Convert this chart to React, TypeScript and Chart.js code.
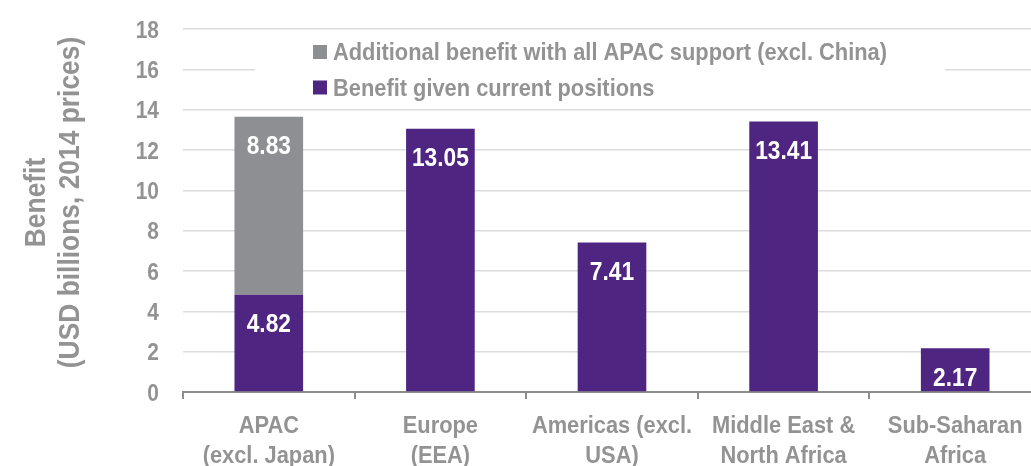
import React, { useEffect, useRef } from 'react';
import { Chart, registerables } from 'chart.js';

Chart.register(...registerables);

const categories: string[][] = [
  ['APAC', '(excl. Japan)'],
  ['Europe', '(EEA)'],
  ['Americas (excl.', 'USA)'],
  ['Middle East &', 'North Africa'],
  ['Sub-Saharan', 'Africa'],
];
const currentBenefit: number[] = [4.82, 13.05, 7.41, 13.41, 2.17];
const additionalBenefit: (number | null)[] = [8.83, null, null, null, null];
const seriesLabels: string[] = ['Benefit given current positions', 'Additional benefit with all APAC support (excl. China)'];
const yTicks: number[] = [0, 2, 4, 6, 8, 10, 12, 14, 16, 18];
const yTitle: string[] = ['Benefit', '(USD billions, 2014 prices)'];

const PURPLE = '#4F2582';
const GREY = '#8E8F93';
const TEXT = '#939393';
const FONT = "'Liberation Sans', Arial, sans-serif";

let SX = 0.82;

function narrowText(ctx: CanvasRenderingContext2D, text: string, x: number, y: number, size: number, color: string, align: CanvasTextAlign, rot = 0) {
  ctx.save();
  ctx.font = `bold ${size}px ${FONT}`;
  ctx.fillStyle = color;
  ctx.textAlign = align;
  ctx.textBaseline = 'alphabetic';
  ctx.translate(x, y);
  if (rot) ctx.rotate(rot);
  ctx.scale(SX, 1);
  ctx.fillText(text, 0, 0);
  ctx.restore();
}

const legendPlugin = {
  id: 'customLegend',
  beforeDatasetsDraw(chart: any) {
    const ctx = chart.ctx as CanvasRenderingContext2D;
    ctx.save();
    ctx.font = `bold 24px ${FONT}`;
    const w = ctx.measureText(seriesLabels[1]).width;
    if (w > 0) SX = 554 / w;
    ctx.fillStyle = '#ffffff';
    ctx.fillRect(255, 36, 690, 68);
    ctx.restore();
    const items = [
      { text: seriesLabels[1], color: GREY, y: 60 },
      { text: seriesLabels[0], color: PURPLE, y: 95.5 },
    ];
    for (const it of items) {
      ctx.fillStyle = it.color;
      ctx.fillRect(313, it.y - 15, 14, 14);
      narrowText(ctx, it.text, 333, it.y, 24, TEXT, 'left');
    }
  },
};

const textPlugin = {
  id: 'axisText',
  afterDraw(chart: any) {
    const ctx = chart.ctx as CanvasRenderingContext2D;
    const ys = chart.scales.y;
    const xs = chart.scales.x;
    yTicks.forEach((v) => {
      narrowText(ctx, String(v), 159, ys.getPixelForValue(v) + 8.5, 23, TEXT, 'right');
    });
    categories.forEach((lines, i) => {
      const x = xs.getPixelForValue(i);
      lines.forEach((ln, j) => narrowText(ctx, ln, x, 433 + j * 29.5, 24, TEXT, 'center'));
    });
    const cy = (ys.top + ys.bottom) / 2 - 8;
    narrowText(ctx, yTitle[0], 45, cy, 29, TEXT, 'center', -Math.PI / 2);
    narrowText(ctx, yTitle[1], 79, cy, 29, TEXT, 'center', -Math.PI / 2);
  },
};

const valueLabelPlugin = {
  id: 'valueLabels',
  afterDatasetsDraw(chart: any) {
    const ctx = chart.ctx as CanvasRenderingContext2D;
    chart.data.datasets.forEach((ds: any, di: number) => {
      const meta = chart.getDatasetMeta(di);
      meta.data.forEach((bar: any, i: number) => {
        const v = ds.data[i];
        if (v == null || v === 0) return;
        narrowText(ctx, Number(v).toFixed(2), bar.x, bar.y + 37.5, 25, '#ffffff', 'center');
      });
    });
  },
};

export default function App() {
  const ref = useRef<HTMLCanvasElement | null>(null);
  useEffect(() => {
    document.body.style.margin = '0';
    if (!ref.current) return;
    const chart = new Chart(ref.current, {
      type: 'bar',
      data: {
        labels: categories,
        datasets: [
          { label: seriesLabels[0], data: currentBenefit, backgroundColor: PURPLE, barPercentage: 0.4, categoryPercentage: 1 },
          { label: seriesLabels[1], data: additionalBenefit, backgroundColor: GREY, barPercentage: 0.4, categoryPercentage: 1 },
        ],
      },
      options: {
        responsive: false,
        animation: false,
        layout: { padding: { top: 29, right: 0, left: 0, bottom: 0 } },
        plugins: { legend: { display: false }, tooltip: { enabled: false } },
        scales: {
          x: {
            stacked: true,
            grid: { offset: true, drawOnChartArea: false, drawTicks: true, tickLength: 7, color: '#8C8C8C', lineWidth: 2 },
            border: { display: true, color: '#8C8C8C', width: 2 },
            ticks: { display: false, autoSkip: false },
            afterFit: (s: any) => { s.height = 74; },
          },
          y: {
            stacked: true,
            min: 0,
            max: 18,
            afterBuildTicks: (s: any) => { s.ticks = yTicks.map((v) => ({ value: v })); },
            grid: { color: (c: any) => (c.tick && c.tick.value === 0 ? 'rgba(0,0,0,0)' : '#DCDCDC'), lineWidth: 1.5, drawTicks: false },
            border: { display: false },
            ticks: { display: false },
            afterFit: (s: any) => { s.width = 183; },
          },
        },
      },
      plugins: [legendPlugin, valueLabelPlugin, textPlugin],
    });
    return () => chart.destroy();
  }, []);
  return (
    <div style={{ position: 'absolute', left: 0, top: 0, width: 1031, height: 466, overflow: 'hidden', background: '#fff' }}>
      <canvas ref={ref} width={1041} height={466} style={{ display: 'block' }} />
    </div>
  );
}
